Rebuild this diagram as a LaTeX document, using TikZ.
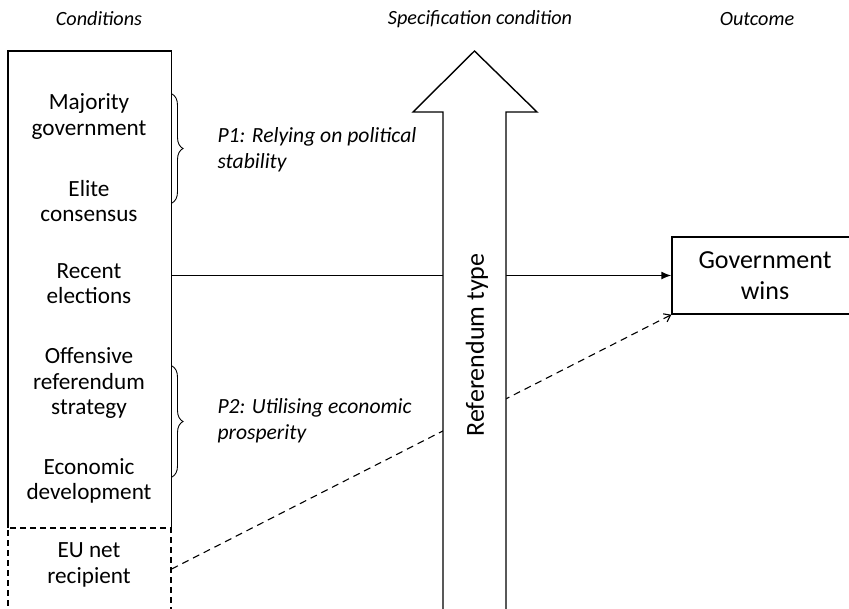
\documentclass[tikz,border=0pt]{standalone}
\usepackage{fontspec}
\setmainfont{Carlito}
\usetikzlibrary{positioning, decorations.pathreplacing, arrows.meta}

\begin{document}
\begin{tikzpicture}[x=1pt, y=-1pt,
    condtext/.style={align=center, font=\fontsize{23.2}{25.5}\selectfont},
    bigtext/.style={align=center, font=\fontsize{26}{31}\selectfont},
    headtext/.style={font=\fontsize{20.2}{24}\selectfont\itshape},
    proptext/.style={align=left, anchor=west, font=\fontsize{21.6}{26}\selectfont\itshape},
    bracket/.style={decorate, decoration={brace, amplitude=11pt}, line width=0.9pt},
    edge/.style={line width=1.4pt}]
    \useasboundingbox (0,0) rectangle (849,608);
    \clip (0,0) rectangle (849,608);

    % Column headings
    \node[headtext] (hcond) at (99,19) {Conditions};
    \node[headtext] (hspec) at (480,19) {Specification condition};
    \node[headtext] (hout) at (757,19) {Outcome};

    % Conditions box (bottom edge is the dashed line below)
    \node[minimum width=163pt, minimum height=477pt, inner sep=0pt] (cond) at (89.5,289.5) {};
    \draw[edge] (cond.south west) -- (cond.north west) -- (cond.north east) -- (cond.south east);
    \node[condtext] (major) at (89,116.5) {Majority\\government};
    \node[condtext] (elite) at (89,201) {Elite\\consensus};
    \node[condtext] (recent) at (89,283.5) {Recent\\elections};
    \node[condtext] (offens) at (89,383) {Offensive\\referendum\\strategy};
    \node[condtext] (econ) at (89,481) {Economic\\development};

    % EU box (dashed)
    \node[draw, line width=1.2pt, dash pattern=on 6pt off 4pt, minimum width=163pt, minimum height=82pt, inner sep=0pt] (eu) at (89.5,569) {};
    \node[condtext] (eutext) at (89,565) {EU net\\recipient};

    % Outcome box
    \node[draw, line width=1.4pt, minimum width=186pt, minimum height=77pt, inner sep=0pt] (out) at (765,275.5) {};
    \node[bigtext] (wins) at (765,276) {Government\\wins};

    % Paths (run behind the big arrow)
    \draw[edge, -{Latex[length=10pt, width=8pt]}] (out.west -| cond.east) -- (out.west);
    \draw[line width=1.1pt, dash pattern=on 7pt off 5pt, -{Straight Barb[length=6pt, width=9pt]}] (eu.east) -- (out.south west);

    % Specification arrow
    \draw[edge, fill=white] (443,620) -- (443,112) -- (413,112) -- (474.5,51) -- (537,112) -- (506,112) -- (506,620);
    \node[rotate=90, bigtext] (reftype) at (477,345) {Referendum type};

    % Braces and pathways
    \draw[bracket] (172,94) -- (172,203) coordinate[midway] (b1);
    \node[proptext] (p1) at (214,150) {P1: Relying on political\\stability};
    \draw[bracket] (172,366) -- (172,477) coordinate[midway] (b2);
    \node[proptext] (p2) at (214,421) {P2: Utilising economic\\prosperity};
\end{tikzpicture}
\end{document}
